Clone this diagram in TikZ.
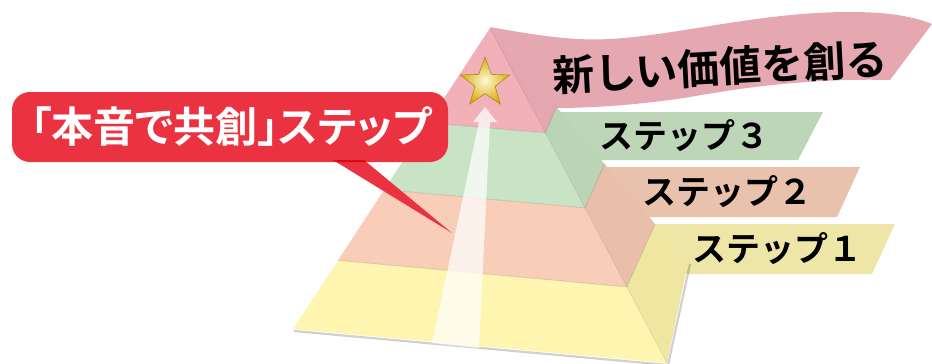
\documentclass[tikz,border=0pt]{standalone}
\usepackage{fontspec}
\newfontfamily\jp{Noto Sans CJK JP}[BoldFont={Noto Sans CJK JP Bold}]
\newfontfamily\jppalt{Noto Sans CJK JP}[BoldFont={Noto Sans CJK JP Bold},RawFeature=+palt]
\usetikzlibrary{calc,shapes.geometric}
\definecolor{pinkF}{HTML}{F2B1B9}
\definecolor{pinkS}{HTML}{E4A6B0}
\definecolor{greenF}{HTML}{C9E4C5}
\definecolor{greenS}{HTML}{BAD4B5}
\definecolor{orangeF}{HTML}{F8CEB8}
\definecolor{orangeS}{HTML}{E9BFAB}
\definecolor{yellowF}{HTML}{FEF6B0}
\definecolor{yellowS}{HTML}{EFE6A2}
\definecolor{ribbonC}{HTML}{E5A8B1}
\definecolor{bandG}{HTML}{BDD6B8}
\definecolor{bandO}{HTML}{E9C2AE}
\definecolor{bandY}{HTML}{EEE6A6}
\definecolor{bubbleC}{HTML}{EB3240}
\definecolor{starLight}{HTML}{FFF8D8}
\definecolor{starGold}{HTML}{D8AC08}
\definecolor{starEdge}{HTML}{B08A10}
\tikzset{
  steptext/.style={font=\jp\bfseries\fontsize{34}{34}\selectfont, text=black, inner sep=0},
  tierline/.style={black, opacity=0.13, line width=0.8},
}
\begin{document}
\begin{tikzpicture}[x=1pt,y=-1pt]
\useasboundingbox (0,0) rectangle (932,364);
% ribbon (behind pyramid)
\fill[ribbonC] (490,27) .. controls (540,36) and (575,41) .. (610,39)
  .. controls (680,35) and (760,12) .. (850,12)
  .. controls (890,12) and (915,17) .. (932,24) -- (890,80)
  .. controls (810,78) and (740,88) .. (690,97)
  .. controls (640,105) and (590,108) .. (557,108) -- (520,100) -- cycle;
\node[font=\jp\bfseries\fontsize{42}{42}\selectfont, rotate=3, inner sep=0] (title) at (720,67) {新しい価値を創る};
% step bands
\fill[bandG] (550,112) -- (823,112) -- (798,160) -- (585,160) -- cycle;
\fill[bandO] (595,167) -- (860,167) -- (837,217) -- (630,217) -- cycle;
\fill[bandY] (645,224) -- (895,224) -- (872,274) -- (675,274) -- cycle;
\node[steptext] (s3) at (684,136) {ステップ３};
\node[steptext] (s2) at (727,192) {ステップ２};
\node[steptext] (s1) at (777,249) {ステップ１};
% pyramid
\coordinate (A) at (490,28);
\coordinate (BL) at (293,329);
\coordinate (FR) at (667,363);
\coordinate (BR) at (688,263);
\coordinate (L1) at ($(A)!0.315!(BL)$);
\coordinate (L2) at ($(A)!0.537!(BL)$);
\coordinate (L3) at ($(A)!0.772!(BL)$);
\coordinate (R1) at ($(A)!0.313!(FR)$);
\coordinate (R2) at ($(A)!0.537!(FR)$);
\coordinate (R3) at ($(A)!0.773!(FR)$);
\coordinate (K1) at ($(A)!0.336!(BR)$);
\coordinate (K2) at ($(A)!0.579!(BR)$);
\coordinate (K3) at ($(A)!0.834!(BR)$);
\draw[black, opacity=0.18, line width=2.2] ($(BL)+(1,2)$) -- ($(FR)+(1,2)$) -- ($(BR)+(2,1)$);
\fill[pinkF] (A) -- (L1) -- (R1) -- cycle;
\fill[greenF] (L1) -- (L2) -- (R2) -- (R1) -- cycle;
\fill[orangeF] (L2) -- (L3) -- (R3) -- (R2) -- cycle;
\fill[yellowF] (L3) -- (BL) -- (FR) -- (R3) -- cycle;
\fill[pinkS] (A) -- (R1) -- (K1) -- cycle;
\fill[greenS] (R1) -- (R2) -- (K2) -- (K1) -- cycle;
\fill[orangeS] (R2) -- (R3) -- (K3) -- (K2) -- cycle;
\fill[yellowS] (R3) -- (FR) -- (BR) -- (K3) -- cycle;
\draw[tierline] (L1) -- (R1) -- (K1);
\draw[tierline] (L2) -- (R2) -- (K2);
\draw[tierline] (L3) -- (R3) -- (K3);
\draw[tierline, opacity=0.08] (A) -- (FR);
% arrow
\fill[white, opacity=0.72] (432,343) -- (479,122) -- (473,122) -- (485,107) -- (497,122) -- (490,122) -- (479,348) -- cycle;
% star
\node[star, star points=5, star point ratio=2.45, minimum size=52, inner sep=0,
      draw=starEdge, line width=0.6, inner color=starLight, outer color=starGold] (star) at (485,83) {};
% speech bubble
\begin{scope}[blend group=multiply]
\fill[bubbleC, rounded corners=18] (12,92) rectangle (448,162);
\fill[bubbleC] (333,160) -- (452,233) -- (364,160) -- cycle;
\end{scope}
\node[font=\jppalt\bfseries\fontsize{42}{42}\selectfont, text=white, inner sep=0] (bubbletext) at (231,127) {「本音で共創」ステップ};
\end{tikzpicture}
\end{document}
